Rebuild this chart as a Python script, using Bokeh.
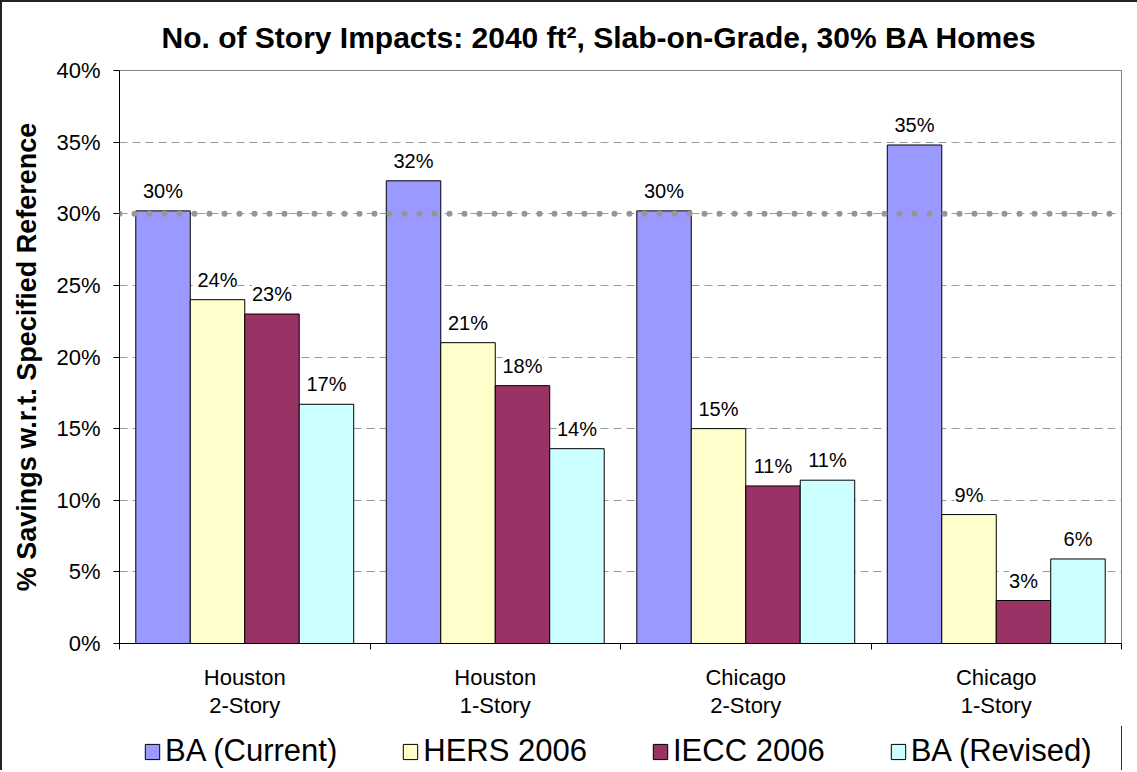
from bokeh.plotting import figure
from bokeh.layouts import column
from bokeh.models import (Range1d, FixedTicker, PrintfTickFormatter, ColumnDataSource,
                          LabelSet, Span, Legend, LegendItem)
from bokeh.core.properties import value
from bokeh.embed import file_html
from bokeh.resources import INLINE

# ---- data ----
categories = ["Houston\n2-Story", "Houston\n1-Story", "Chicago\n2-Story", "Chicago\n1-Story"]
series_names = ["BA (Current)", "HERS 2006", "IECC 2006", "BA (Revised)"]
ba_current = [30.2, 32.3, 30.2, 34.8]
hers_2006 = [24.0, 21.0, 15.0, 9.0]
iecc_2006 = [23.0, 18.0, 11.0, 3.0]
ba_revised = [16.7, 13.6, 11.4, 5.9]
target = 30
y_ticks = [0, 5, 10, 15, 20, 25, 30, 35, 40]
title_text = "No. of Story Impacts: 2040 ft\u00b2, Slab-on-Grade, 30% BA Homes"
y_label = "% Savings w.r.t. Specified Reference"

colors = ["#9999FF", "#FFFFCC", "#993366", "#CCFFFF"]
series = [ba_current, hers_2006, iecc_2006, ba_revised]

FONT = "Liberation Sans"
n = len(categories)
bar_w = 0.2175
offsets = [-1.5 * bar_w, -0.5 * bar_w, 0.5 * bar_w, 1.5 * bar_w]
W = 1135

p = figure(width=W, height=724, output_backend="svg", toolbar_location=None,
           x_range=Range1d(0, n), y_range=Range1d(0, 40),
           min_border_left=117, min_border_right=16, min_border_bottom=83, min_border_top=67)

p.title.text = title_text
p.title.text_font = FONT
p.title.text_font_size = "30px"
p.title.text_font_style = "bold"
p.title.text_color = "black"
p.title.align = "left"
p.title.offset = 42
p.title.standoff = 33

p.outline_line_color = "#808080"
p.outline_line_width = 1
p.background_fill_color = "white"
p.border_fill_color = "white"

# y axis
p.yaxis.ticker = FixedTicker(ticks=y_ticks, minor_ticks=[])
p.yaxis.formatter = PrintfTickFormatter(format="%d%%")
p.yaxis.major_label_text_font = FONT
p.yaxis.major_label_text_font_size = "22px"
p.yaxis.major_label_text_color = "black"
p.yaxis.major_tick_out = 6
p.yaxis.major_tick_in = 0
p.yaxis.minor_tick_line_color = None
p.yaxis.major_label_standoff = 13
p.yaxis.axis_label = y_label
p.yaxis.axis_label_text_font = FONT
p.yaxis.axis_label_text_font_size = "27px"
p.yaxis.axis_label_text_font_style = "bold"
p.yaxis.axis_label_text_color = "black"
p.yaxis.axis_label_standoff = 11
p.yaxis.axis_line_color = "black"

# x axis: labels at group centres, boundary ticks as minor ticks
centers = [i + 0.5 for i in range(n)]
p.xaxis.ticker = FixedTicker(ticks=centers, minor_ticks=list(range(n + 1)))
p.xaxis.major_label_overrides = {c: lab for c, lab in zip(centers, categories)}
p.xaxis.major_tick_line_color = None
p.xaxis.minor_tick_out = 6
p.xaxis.minor_tick_in = 0
p.xaxis.minor_tick_line_color = "black"
p.xaxis.major_label_text_font = FONT
p.xaxis.major_label_text_font_size = "22px"
p.xaxis.major_label_text_color = "black"
p.xaxis.major_label_text_line_height = 1.15
p.xaxis.major_label_standoff = 15
p.xaxis.axis_line_color = "black"

# grid
p.xgrid.grid_line_color = None
p.ygrid.ticker = FixedTicker(ticks=y_ticks[1:-1])
p.ygrid.grid_line_color = "#9a9a9a"
p.ygrid.grid_line_dash = "8 5"
p.ygrid.grid_line_width = 1

# legend strip (its frame is aligned with the main frame by the column layout)
q = figure(width=W, height=44, output_backend="svg", toolbar_location=None,
           x_range=Range1d(-2, -1), y_range=Range1d(0, 1),
           x_axis_location=None, y_axis_location=None,
           min_border_left=0, min_border_right=0, min_border_top=0, min_border_bottom=0)
q.outline_line_color = None
q.xgrid.grid_line_color = None
q.ygrid.grid_line_color = None
q.background_fill_color = "white"
q.border_fill_color = "white"

items = []
for name, vals, col, off in zip(series_names, series, colors, offsets):
    src = ColumnDataSource(dict(
        x=[c + off for c in centers],
        top=vals,
        lab=[f"{round(v)}%" for v in vals],
    ))
    p.vbar(x="x", top="top", width=bar_w, bottom=0, source=src,
           fill_color=col, line_color="black", line_width=1)
    lbl = LabelSet(x="x", y="top", text="lab", source=src, text_align="center",
                   text_baseline="alphabetic", y_offset=13, text_font=value(FONT),
                   text_font_size="20px", text_color="black",
                   background_fill_color="white")
    p.add_layout(lbl)
    # same bars in the legend strip, outside its visible x range (legend swatch only)
    key = q.vbar(x="x", top="top", width=bar_w, bottom=0, source=src,
                 fill_color=col, line_color="black", line_width=1)
    items.append(LegendItem(label=name, renderers=[key]))

span = Span(location=target, dimension="width", line_color="#969696", line_width=6,
            line_dash="0 15", line_cap="round")
p.add_layout(span)

legend = Legend(items=items, orientation="horizontal", location=(24, 1),
                label_text_font=FONT, label_text_font_size="31px", label_text_color="black",
                glyph_width=18, glyph_height=19, label_standoff=4, spacing=64,
                padding=0, margin=0, border_line_color=None,
                background_fill_alpha=0)
q.add_layout(legend, "center")

layout = column(p, q, spacing=0)
layout.styles = {"border-top": "2px solid #222", "border-left": "2px solid #222"}

open("out.html", "w").write(file_html(layout, INLINE))
